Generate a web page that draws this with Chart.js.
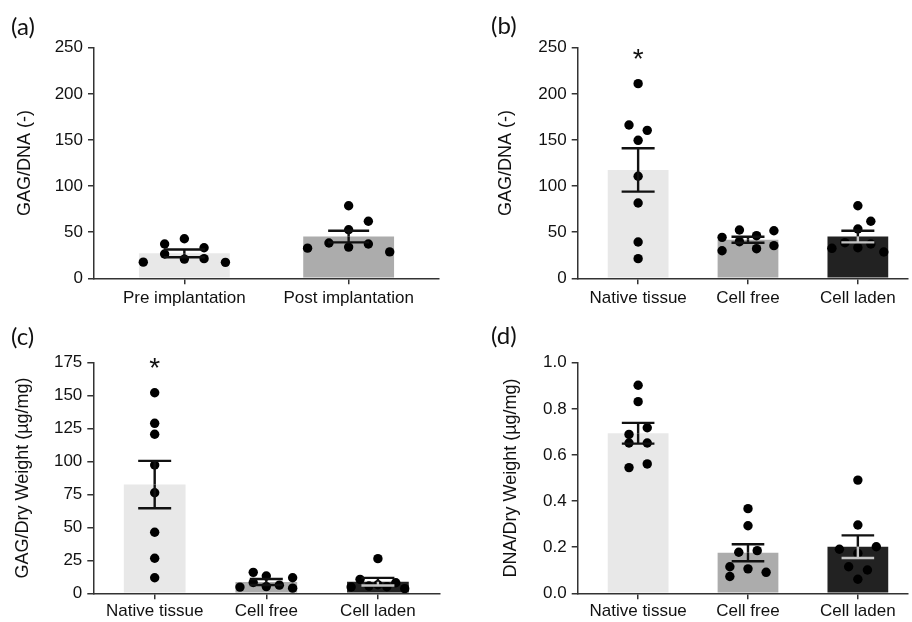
<!DOCTYPE html>
<html>
<head>
<meta charset="utf-8">
<script src="https://cdn.jsdelivr.net/npm/chart.js@4.4.1/dist/chart.umd.min.js"></script>
<style>
  html, body { margin: 0; padding: 0; background: #fff; overflow: hidden; }
  #wrap { position: relative; width: 912px; height: 622px; }
  #wrap canvas { position: absolute; }
</style>
</head>
<body>
<div id="wrap">
  <canvas id="chartA" width="456" height="311" style="left:0;top:0"></canvas>
  <canvas id="chartB" width="456" height="311" style="left:456px;top:0"></canvas>
  <canvas id="chartC" width="456" height="311" style="left:0;top:311px"></canvas>
  <canvas id="chartD" width="456" height="311" style="left:456px;top:311px"></canvas>
</div>
<script>
// ---- (a) GAG/DNA, pre vs post implantation ----
const aLabels = ["Pre implantation", "Post implantation"];
const aMeans = [27.1, 45.3];
const aSems = [4.2, 6.3];
const aPre = [17.5, 37.2, 26.3, 42.9, 20.8, 33.1, 21.3, 17.3];
const aPreJit = [-0.25, -0.12, -0.12, 0, 0, 0.12, 0.12, 0.25];
const aPost = [32.7, 38.3, 78.7, 52.6, 33.8, 61.8, 37.2, 28.6];
const aPostJit = [-0.25, -0.12, 0, 0, 0, 0.12, 0.12, 0.25];

// ---- (b) GAG/DNA ----
const groupLabels = ["Native tissue", "Cell free", "Cell laden"];
const bMeans = [117.5, 41.8, 45.3];
const bSems = [23.5, 3.3, 6.3];
const bNative = [211, 166.2, 160.4, 149.6, 110.6, 81.6, 39.4, 21.3];
const bNativeJit = [0, -0.083, 0.083, 0, 0, 0, 0, 0];
const bFree = [44.4, 29.9, 52.4, 39.7, 46.2, 32.1, 51.6, 35.4];
const bFreeJit = [-0.236, -0.236, -0.078, -0.078, 0.078, 0.078, 0.236, 0.236];
const bLaden = [32.5, 38.6, 78.7, 53.4, 33.2, 61.8, 37.2, 28.5];
const bLadenJit = [-0.236, -0.118, 0, 0, 0, 0.118, 0.118, 0.236];
const bSig = ["*", "", ""];

// ---- (c) GAG/Dry weight ----
const cMeans = [82.5, 8.6, 8.8];
const cSems = [18.0, 2.3, 2.9];
const cNative = [152.2, 129.0, 120.7, 97.4, 76.3, 46.3, 26.6, 11.8];
const cNativeJit = [0, 0, 0, 0, 0, 0, 0, 0];
const cFree = [4.7, 15.9, 8.2, 13.1, 5.1, 6.2, 11.8, 3.9];
const cFreeJit = [-0.236, -0.117, -0.117, 0, 0, 0.117, 0.236, 0.236];
const cLaden = [4.8, 10.6, 26.3, 5.5, 6.5, 5.0, 8.0, 3.5];
const cLadenJit = [-0.24, -0.16, 0, -0.08, 0, 0.08, 0.16, 0.24];
const cSig = ["*", "", ""];

// ---- (d) DNA/Dry weight ----
const dMeans = [0.694, 0.176, 0.202];
const dSems = [0.045, 0.037, 0.049];
const dNative = [0.902, 0.831, 0.689, 0.718, 0.652, 0.652, 0.545, 0.561];
const dNativeJit = [0, 0, -0.083, 0.083, -0.083, 0.083, -0.083, 0.083];
const dFree = [0.367, 0.293, 0.178, 0.185, 0.115, 0.106, 0.091, 0.073];
const dFreeJit = [0, 0, -0.084, 0.084, -0.165, 0, 0.165, -0.165];
const dLaden = [0.491, 0.296, 0.191, 0.202, 0.173, 0.115, 0.101, 0.061];
const dLadenJit = [0, 0, -0.168, 0.168, 0, -0.084, 0.087, 0];

const barColors = ["#e8e8e8", "#acacac", "#222222"];

Chart.defaults.font.family = "'Liberation Sans', Arial, sans-serif";
Chart.defaults.color = "#111";

// error bars (mean +/- SEM), significance marks and panel letters
function extras(p) {
  return {
    id: "extras",
    afterDatasetsDraw(chart) {
      const ctx = chart.ctx;
      const xs = chart.scales.x, ys = chart.scales.y;
      ctx.save();
      ctx.lineWidth = 2.4;
      ctx.lineCap = "butt";
      p.means.forEach((m, i) => {
        const x = xs.getPixelForValue(i);
        const yMid = ys.getPixelForValue(m);
        const yTop = ys.getPixelForValue(m + p.sems[i]);
        const yLow = ys.getPixelForValue(m - p.sems[i]);
        const w = p.capHalf;
        ctx.strokeStyle = "#111";
        ctx.beginPath();
        ctx.moveTo(x, yMid); ctx.lineTo(x, yTop);
        ctx.moveTo(x - w, yTop); ctx.lineTo(x + w, yTop);
        ctx.stroke();
        // inside a dark bar the lower half shows light
        ctx.strokeStyle = barColors[i] === "#222222" ? "#c4c4c4" : "#111";
        ctx.beginPath();
        ctx.moveTo(x, yMid); ctx.lineTo(x, yLow);
        ctx.moveTo(x - w, yLow); ctx.lineTo(x + w, yLow);
        ctx.stroke();
      });
      if (p.sig) {
        ctx.fillStyle = "#111";
        ctx.font = "28px 'Liberation Sans', Arial, sans-serif";
        ctx.textAlign = "center";
        ctx.textBaseline = "alphabetic";
        p.sig.forEach((s, i) => {
          if (!s) return;
          const top = ys.getPixelForValue(Math.max(...p.groups[i]));
          ctx.fillText(s, xs.getPixelForValue(i), top - 31 + 15);
        });
      }
      ctx.fillStyle = "#111";
      ctx.font = "24px Lato, 'Open Sans', sans-serif";
      ctx.textAlign = "left";
      ctx.textBaseline = "middle";
      ctx.fillText(p.tag, p.tagX, p.tagY);
      ctx.restore();
    }
  };
}

function makePanel(id, p) {
  const points = p.groups.flatMap((vals, i) =>
    vals.map((v, k) => ({ x: i + p.jitter[i][k], y: v })));
  return new Chart(document.getElementById(id), {
    type: "bar",
    data: {
      datasets: [
        {
          type: "scatter",
          data: points,
          backgroundColor: "#000",
          borderWidth: 0,
          pointRadius: 4.7,
          pointHoverRadius: 4.7,
          order: 1
        },
        {
          type: "bar",
          data: p.means.map((m, i) => ({ x: i, y: m })),
          backgroundColor: barColors.slice(0, p.means.length),
          borderWidth: 0,
          barPercentage: 0.553,
          categoryPercentage: 1,
          order: 2
        }
      ]
    },
    options: {
      responsive: false,
      animation: false,
      events: [],
      layout: { padding: { left: 0, right: p.padR, top: p.padT, bottom: 0 } },
      plugins: { legend: { display: false }, tooltip: { enabled: false } },
      scales: {
        x: {
          type: "linear",
          min: -0.55,
          max: p.xMax,
          offset: false,
          afterBuildTicks: s => { s.ticks = p.labels.map((_, i) => ({ value: i })); },
          afterFit: s => { s.height = p.xH; },
          ticks: {
            callback: v => p.labels[v],
            font: { size: 17 },
            color: "#111",
            padding: p.tickPad,
            maxRotation: 0,
            autoSkip: false
          },
          grid: { drawOnChartArea: false, offset: false, tickLength: 6, color: "#333", lineWidth: 1.5 },
          border: { color: "#333", width: 1.5 }
        },
        y: {
          min: 0,
          max: p.yMax,
          afterFit: s => { s.width = p.yW; },
          ticks: {
            stepSize: p.yStep,
            callback: v => v.toFixed(p.decimals),
            font: { size: 17 },
            color: "#111",
            padding: 5
          },
          grid: { drawOnChartArea: false, tickLength: 6, color: "#333", lineWidth: 1.5 },
          border: { color: "#333", width: 1.5 },
          title: {
            display: true,
            text: p.yTitle,
            font: { size: 18 },
            color: "#111",
            padding: { top: p.titlePad, bottom: 0 }
          }
        }
      }
    },
    plugins: [extras(p)]
  });
}

makePanel("chartA", {
  labels: aLabels, means: aMeans, sems: aSems,
  groups: [aPre, aPost], jitter: [aPreJit, aPostJit],
  yMax: 250, yStep: 50, decimals: 0, yTitle: "GAG/DNA (-)",
  xMax: 1.55, padR: 17, padT: 47.7, yW: 94, xH: 32.7, tickPad: 4,
  titlePad: 14.2, capHalf: 20.5, tag: "(a)", tagX: 11, tagY: 27
});

makePanel("chartB", {
  labels: groupLabels, means: bMeans, sems: bSems,
  groups: [bNative, bFree, bLaden], jitter: [bNativeJit, bFreeJit, bLadenJit],
  yMax: 250, yStep: 50, decimals: 0, yTitle: "GAG/DNA (-)", sig: bSig,
  xMax: 2.45, padR: 0, padT: 47.7, yW: 121.7, xH: 32.7, tickPad: 4,
  titlePad: 39.2, capHalf: 16.5, tag: "(b)", tagX: 35, tagY: 26.5
});

makePanel("chartC", {
  labels: groupLabels, means: cMeans, sems: cSems,
  groups: [cNative, cFree, cLaden], jitter: [cNativeJit, cFreeJit, cLadenJit],
  yMax: 175, yStep: 25, decimals: 0, yTitle: "GAG/Dry Weight (\u00b5g/mg)", sig: cSig,
  xMax: 2.55, padR: 16.7, padT: 51.7, yW: 93.3, xH: 28.7, tickPad: 2,
  titlePad: 12.5, capHalf: 16.5, tag: "(c)", tagX: 11, tagY: 26.5
});

makePanel("chartD", {
  labels: groupLabels, means: dMeans, sems: dSems,
  groups: [dNative, dFree, dLaden], jitter: [dNativeJit, dFreeJit, dLadenJit],
  yMax: 1.0, yStep: 0.2, decimals: 1, yTitle: "DNA/Dry Weight (\u00b5g/mg)",
  xMax: 2.45, padR: 0, padT: 51.7, yW: 121.7, xH: 28.7, tickPad: 2,
  titlePad: 44.2, capHalf: 16.3, tag: "(d)", tagX: 35, tagY: 25
});
</script>
</body>
</html>
